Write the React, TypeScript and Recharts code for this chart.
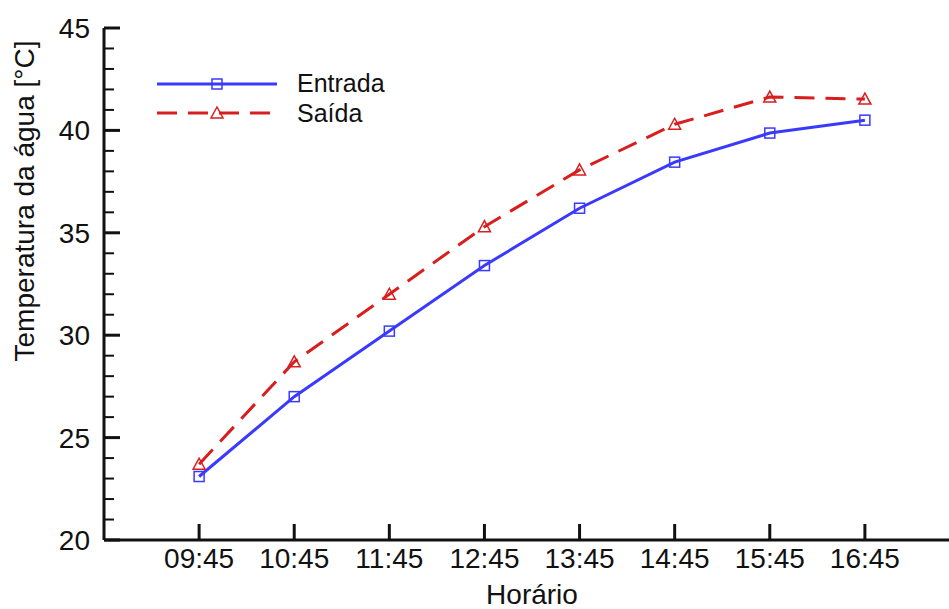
import React from 'react';
import { LineChart, Line, XAxis, YAxis, Legend } from 'recharts';

const horarios = ['09:45', '10:45', '11:45', '12:45', '13:45', '14:45', '15:45', '16:45'];
const entrada = [23.1, 27.0, 30.2, 33.4, 36.2, 38.45, 39.87, 40.5];
const saida = [23.7, 28.7, 32.0, 35.3, 38.07, 40.3, 41.63, 41.53];
const xTicks = [1, 2, 3, 4, 5, 6, 7, 8];
const yTicks = [20, 21, 22, 23, 24, 25, 26, 27, 28, 29, 30, 31, 32, 33, 34, 35, 36, 37, 38, 39, 40, 41, 42, 43, 44, 45];
const yMajor = [20, 25, 30, 35, 40, 45];

const data = horarios.map((h, i) => ({ x: i + 1, label: h, entrada: entrada[i], saida: saida[i] }));

const FONT = '"Liberation Sans", Arial, sans-serif';
const BLUE = '#3a3aff';
const RED = '#d81e1e';
const INK = '#111';

const BottomTick = (props: any) => {
  const { x, y, payload } = props;
  return (
    <g>
      <line x1={x} y1={y} x2={x} y2={y - 16} stroke={INK} strokeWidth={3} />
      <text x={x} y={y + 28} textAnchor="middle" fontSize={28} fontFamily={FONT} fill={INK}>
        {horarios[payload.value - 1]}
      </text>
    </g>
  );
};

const TopTick = (props: any) => {
  const { x, y } = props;
  return <line x1={x} y1={y} x2={x} y2={y + 16} stroke={INK} strokeWidth={3} />;
};

const LeftTick = (props: any) => {
  const { x, y, payload } = props;
  const major = yMajor.includes(payload.value);
  return (
    <g>
      <line x1={x} y1={y} x2={x + (major ? 16 : 10)} y2={y} stroke={INK} strokeWidth={major ? 3 : 2} />
      {major && (
        <text x={x - 14} y={y + 10} textAnchor="end" fontSize={28} fontFamily={FONT} fill={INK}>
          {payload.value}
        </text>
      )}
    </g>
  );
};

const RightTick = (props: any) => {
  const { x, y } = props;
  return <line x1={x} y1={y} x2={x - 16} y2={y} stroke={INK} strokeWidth={3} />;
};

const Square = (props: any) => {
  const { cx, cy } = props;
  return <rect x={cx - 5} y={cy - 5} width={10} height={10} fill="none" stroke={BLUE} strokeWidth={1.5} />;
};

const Triangle = (props: any) => {
  const { cx, cy } = props;
  return (
    <polygon
      points={`${cx},${cy - 6} ${cx - 6},${cy + 5} ${cx + 6},${cy + 5}`}
      fill="none"
      stroke={RED}
      strokeWidth={1.5}
    />
  );
};

const LegendBox = () => (
  <svg width={260} height={70} style={{ overflow: 'visible', display: 'block' }}>
    <line x1={0} y1={14} x2={120} y2={14} stroke={BLUE} strokeWidth={3} />
    <Square cx={60} cy={14} />
    <text x={140} y={22} fontSize={25} fontFamily={FONT} fill={INK}>Entrada</text>
    <line x1={0} y1={43} x2={120} y2={43} stroke={RED} strokeWidth={3} strokeDasharray="20 11" />
    <Triangle cx={60} cy={43} />
    <text x={140} y={52} fontSize={25} fontFamily={FONT} fill={INK}>Saída</text>
  </svg>
);

export default function App() {
  return (
    <div style={{ position: 'absolute', left: 0, top: 0, width: 949, height: 609, overflow: 'hidden', background: '#fff' }}>
      <LineChart width={970} height={609} data={data} margin={{ top: 28, right: 10, bottom: 0, left: 0 }}>
        <XAxis
          dataKey="x"
          type="number"
          domain={[0, 9]}
          ticks={xTicks}
          interval={0}
          tickSize={0}
          tickMargin={0}
          tickLine={false}
          tick={<BottomTick />}
          axisLine={{ stroke: INK, strokeWidth: 3 }}
          height={69}
          label={{
            content: () => (
              <text x={532} y={604} textAnchor="middle" fontSize={28} fontFamily={FONT} fill={INK}>
                Horário
              </text>
            ),
          }}
        />
        <XAxis
          xAxisId="top"
          orientation="top"
          dataKey="x"
          type="number"
          domain={[0, 9]}
          ticks={xTicks}
          interval={0}
          tickSize={0}
          tickMargin={0}
          tickLine={false}
          tick={<TopTick />}
          axisLine={{ stroke: INK, strokeWidth: 3 }}
          height={0}
        />
        <YAxis
          type="number"
          domain={[20, 45]}
          ticks={yTicks}
          interval={0}
          tickSize={0}
          tickMargin={0}
          tickLine={false}
          tick={<LeftTick />}
          axisLine={{ stroke: INK, strokeWidth: 3 }}
          width={104}
          label={{
            content: () => (
              <text
                x={24}
                y={201}
                transform="rotate(-90 24 201)"
                textAnchor="middle"
                dominantBaseline="central"
                fontSize={28}
                fontFamily={FONT}
                fill={INK}
              >
                Temperatura da água [°C]
              </text>
            ),
          }}
        />
        <YAxis
          yAxisId="right"
          orientation="right"
          type="number"
          domain={[20, 45]}
          ticks={yMajor}
          interval={0}
          tickSize={0}
          tickMargin={0}
          tickLine={false}
          tick={<RightTick />}
          axisLine={{ stroke: INK, strokeWidth: 3 }}
          width={0}
        />
        <Legend
          layout="vertical"
          align="center"
          verticalAlign="middle"
          content={() => <LegendBox />}
          wrapperStyle={{ position: 'absolute', left: 157, top: 70, width: 260, height: 70 }}
        />
        <Line
          dataKey="entrada"
          name="Entrada"
          type="linear"
          stroke={BLUE}
          strokeWidth={3}
          dot={<Square />}
          activeDot={false}
          isAnimationActive={false}
        />
        <Line
          dataKey="saida"
          name="Saída"
          type="linear"
          stroke={RED}
          strokeWidth={3}
          strokeDasharray="20 11"
          dot={<Triangle />}
          activeDot={false}
          isAnimationActive={false}
        />
      </LineChart>
    </div>
  );
}
